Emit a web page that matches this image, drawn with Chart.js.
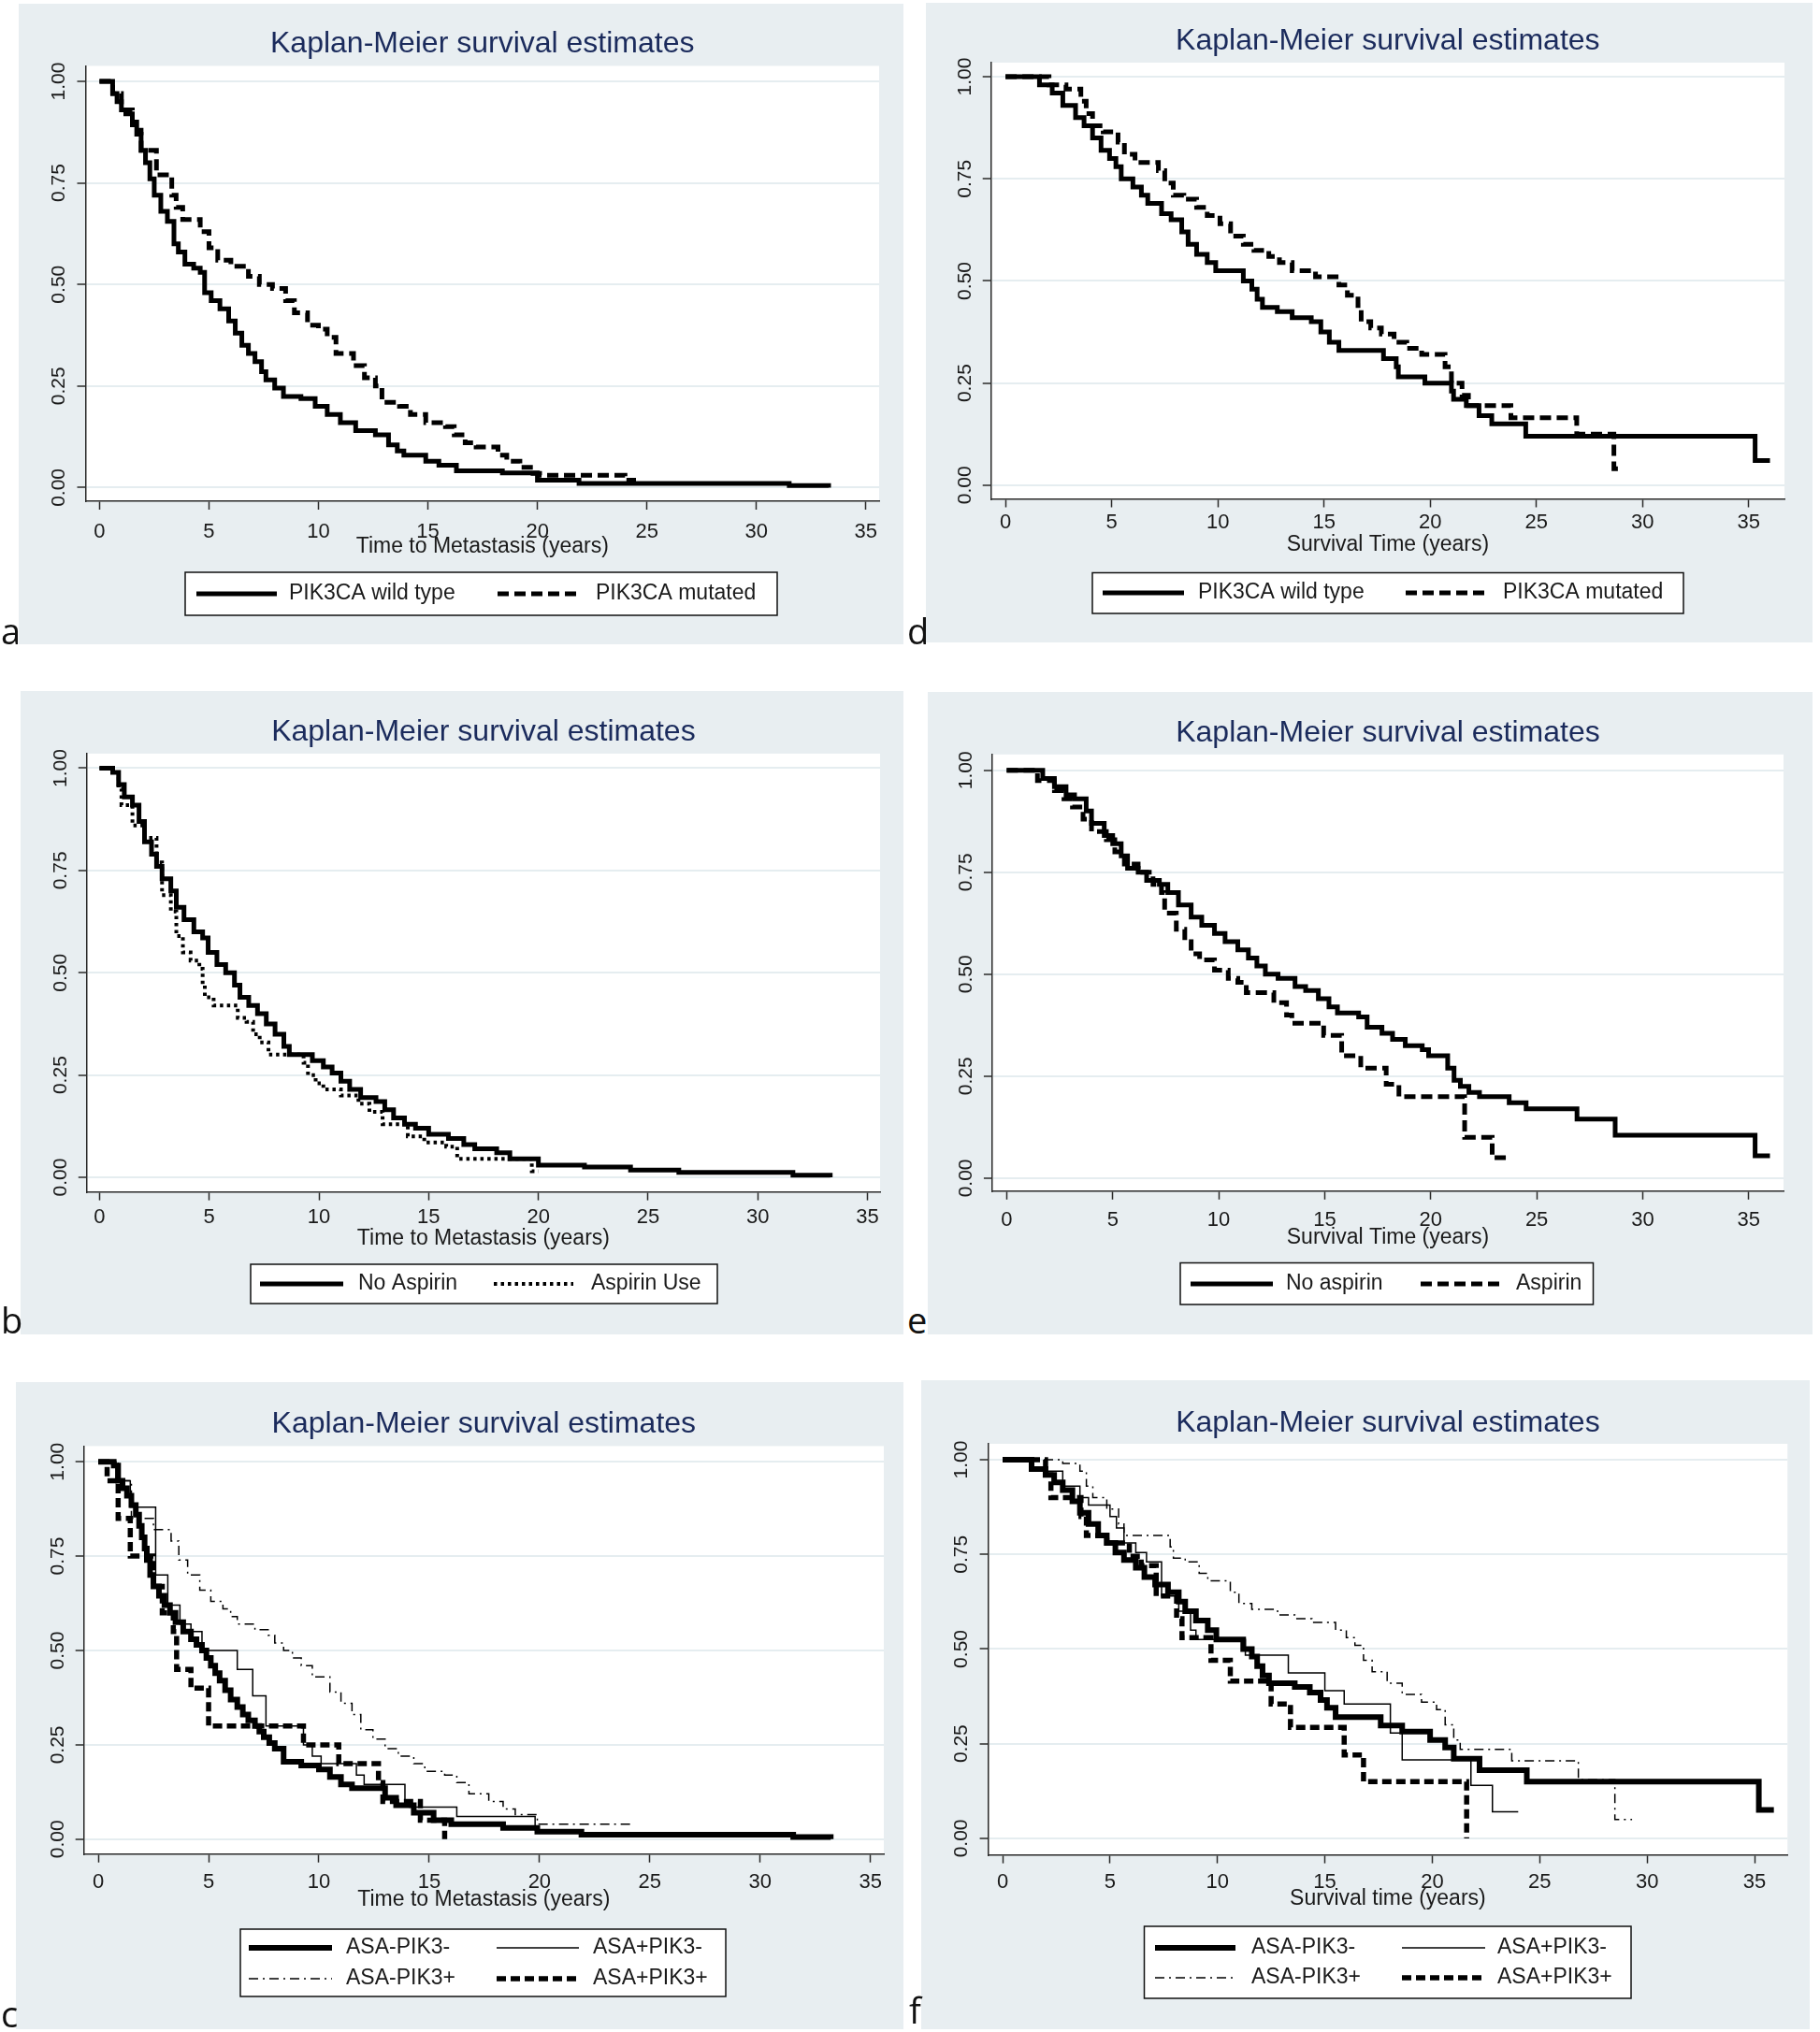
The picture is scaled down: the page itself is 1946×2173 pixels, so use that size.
<!DOCTYPE html>
<html>
<head>
<meta charset="utf-8">
<script src="https://cdn.jsdelivr.net/npm/chart.js@4.4.0/dist/chart.umd.min.js"></script>
<style>
  body { margin: 0; background: #fff; width: 1946px; height: 2173px; position: relative; overflow: hidden; }
  .letter { position: absolute; font-family: "Open Sans", sans-serif; font-size: 38px; line-height: 1; color: #111; }
</style>
</head>
<body>
<script>
// tick labels
const X_TICKS = [0, 5, 10, 15, 20, 25, 30, 35];
const Y_TICKS = [0, 0.25, 0.5, 0.75, 1];

// a - time to metastasis by PIK3CA
const A_WILD_T = [0, 0.6, 0.8, 1.0, 1.2, 1.5, 1.7, 1.9, 2.1, 2.3, 2.5, 2.8, 3.1, 3.4, 3.6, 3.9, 4.3, 4.6, 4.8, 5.1, 5.5, 5.9, 6.2, 6.5, 6.8, 7.1, 7.4, 7.6, 8.0, 8.4, 9.2, 9.85, 10.4, 11.0, 11.7, 12.6, 13.2, 13.6, 13.9, 14.9, 15.5, 16.3, 18.4, 20.0, 21.9, 31.5, 33.3];
const A_WILD_S = [1, 0.97, 0.95, 0.93, 0.92, 0.90, 0.87, 0.83, 0.80, 0.76, 0.72, 0.68, 0.655, 0.60, 0.58, 0.55, 0.54, 0.53, 0.48, 0.46, 0.44, 0.41, 0.38, 0.35, 0.33, 0.31, 0.285, 0.265, 0.245, 0.224, 0.219, 0.20, 0.18, 0.16, 0.14, 0.13, 0.105, 0.09, 0.08, 0.065, 0.055, 0.041, 0.036, 0.018, 0.010, 0.005, 0.0];
const A_MUT_T = [0, 0.6, 1.0, 1.5, 1.9, 2.6, 3.3, 3.5, 3.8, 4.6, 5.0, 5.4, 6.0, 6.8, 7.3, 7.9, 8.5, 8.9, 9.5, 10.0, 10.4, 10.8, 11.6, 12.1, 12.6, 12.9, 13.7, 14.2, 14.9, 15.8, 16.2, 16.7, 17.2, 18.2, 18.6, 19.2, 19.8, 20.1, 24.0, 24.5];
const A_MUT_S = [1, 0.97, 0.93, 0.88, 0.83, 0.77, 0.72, 0.69, 0.66, 0.63, 0.59, 0.56, 0.545, 0.52, 0.50, 0.49, 0.46, 0.43, 0.40, 0.39, 0.37, 0.33, 0.30, 0.27, 0.25, 0.21, 0.20, 0.18, 0.16, 0.15, 0.13, 0.11, 0.10, 0.08, 0.065, 0.05, 0.035, 0.03, 0.018, 0.018];

// d - survival by PIK3CA
const D_WILD_T = [0, 1.2, 1.6, 2.2, 2.7, 3.3, 3.7, 4.1, 4.5, 4.9, 5.2, 5.45, 6.0, 6.4, 6.7, 7.35, 7.8, 8.3, 8.6, 9.0, 9.5, 9.9, 11.2, 11.6, 11.85, 12.1, 12.8, 13.5, 14.4, 14.85, 15.25, 15.7, 17.8, 18.4, 18.5, 19.75, 21.0, 21.1, 21.7, 22.3, 22.9, 24.5, 35.3, 36.0];
const D_WILD_S = [1, 1, 0.98, 0.96, 0.93, 0.90, 0.88, 0.85, 0.82, 0.80, 0.78, 0.75, 0.73, 0.71, 0.69, 0.665, 0.65, 0.62, 0.59, 0.565, 0.545, 0.525, 0.50, 0.48, 0.455, 0.435, 0.425, 0.41, 0.40, 0.375, 0.35, 0.33, 0.31, 0.29, 0.265, 0.25, 0.23, 0.21, 0.195, 0.17, 0.15, 0.12, 0.06, 0.06];
const D_MUT_T = [0, 2.05, 2.85, 3.55, 3.8, 4.1, 4.6, 5.3, 5.6, 6.1, 7.2, 7.5, 7.9, 8.4, 9.0, 9.5, 10.1, 10.6, 11.2, 11.7, 12.4, 12.9, 13.5, 14.6, 15.7, 16.1, 16.6, 16.75, 17.2, 17.7, 18.3, 18.9, 19.6, 20.7, 21.0, 21.5, 21.8, 23.8, 26.9, 28.65, 29.1];
const D_MUT_S = [1, 0.98, 0.97, 0.94, 0.91, 0.88, 0.865, 0.84, 0.81, 0.79, 0.77, 0.74, 0.71, 0.70, 0.68, 0.66, 0.64, 0.61, 0.59, 0.575, 0.56, 0.545, 0.525, 0.51, 0.49, 0.465, 0.44, 0.40, 0.385, 0.37, 0.35, 0.335, 0.32, 0.29, 0.25, 0.22, 0.195, 0.165, 0.125, 0.04, 0.04];

// b - time to metastasis by aspirin
const B_NO_T = [0, 0.6, 0.87, 1.13, 1.5, 1.8, 2.05, 2.37, 2.6, 2.85, 3.25, 3.5, 3.85, 4.3, 4.7, 4.95, 5.35, 5.75, 6.15, 6.4, 6.8, 7.2, 7.6, 8.0, 8.4, 8.65, 9.7, 10.2, 10.6, 11.0, 11.4, 11.9, 12.6, 13.0, 13.4, 13.9, 14.4, 15.0, 15.9, 16.6, 17.1, 18.1, 18.7, 20.0, 22.1, 24.2, 26.4, 31.6, 33.3];
const B_NO_S = [1, 0.99, 0.96, 0.93, 0.91, 0.87, 0.82, 0.79, 0.76, 0.73, 0.70, 0.66, 0.63, 0.60, 0.585, 0.55, 0.52, 0.50, 0.47, 0.44, 0.42, 0.40, 0.375, 0.35, 0.32, 0.30, 0.285, 0.27, 0.255, 0.235, 0.215, 0.195, 0.185, 0.165, 0.145, 0.13, 0.12, 0.105, 0.095, 0.08, 0.07, 0.06, 0.045, 0.03, 0.025, 0.018, 0.012, 0.005, 0.0];
const B_ASP_T = [0, 0.6, 0.87, 1.0, 1.5, 2.05, 2.6, 2.85, 3.25, 3.5, 3.8, 4.15, 4.55, 4.7, 4.8, 5.2, 6.3, 6.7, 7.0, 7.3, 7.7, 9.3, 9.5, 9.85, 10.2, 11.0, 11.8, 12.3, 12.9, 14.05, 14.8, 15.8, 16.3, 19.7, 20.0];
const B_ASP_S = [1, 0.99, 0.95, 0.91, 0.86, 0.83, 0.77, 0.69, 0.65, 0.59, 0.55, 0.53, 0.51, 0.47, 0.44, 0.42, 0.39, 0.38, 0.35, 0.33, 0.30, 0.28, 0.25, 0.23, 0.215, 0.20, 0.18, 0.16, 0.13, 0.10, 0.085, 0.075, 0.045, 0.015, 0.015];

// e - survival by aspirin
const E_NO_T = [0, 1.45, 1.7, 2.25, 2.8, 3.2, 3.75, 4.0, 4.6, 5.0, 5.4, 5.7, 6.2, 6.6, 7.2, 7.6, 8.1, 8.7, 9.2, 9.8, 10.3, 10.9, 11.4, 11.8, 12.2, 12.8, 13.6, 14.1, 14.7, 15.2, 15.6, 16.6, 17.0, 17.7, 18.2, 18.8, 19.6, 19.9, 20.8, 21.1, 21.4, 21.8, 22.3, 23.7, 24.5, 26.9, 28.7, 35.3, 36.0];
const E_NO_S = [1, 1, 0.98, 0.96, 0.94, 0.93, 0.90, 0.87, 0.84, 0.82, 0.79, 0.76, 0.75, 0.73, 0.72, 0.70, 0.67, 0.64, 0.62, 0.60, 0.58, 0.56, 0.54, 0.52, 0.50, 0.49, 0.47, 0.46, 0.44, 0.42, 0.405, 0.395, 0.37, 0.355, 0.34, 0.325, 0.315, 0.30, 0.27, 0.24, 0.225, 0.21, 0.20, 0.185, 0.17, 0.145, 0.105, 0.055, 0.055];
const E_ASP_T = [0, 1.45, 2.25, 2.7, 3.1, 3.6, 4.0, 4.7, 5.1, 5.55, 6.2, 6.9, 7.3, 7.45, 8.0, 8.4, 8.7, 9.1, 9.8, 10.45, 10.9, 11.3, 12.6, 13.2, 13.45, 14.95, 15.8, 16.7, 17.9, 18.5, 21.6, 22.9, 23.8];
const E_ASP_S = [1, 0.975, 0.95, 0.93, 0.91, 0.88, 0.85, 0.83, 0.80, 0.77, 0.75, 0.72, 0.70, 0.65, 0.61, 0.58, 0.55, 0.535, 0.51, 0.49, 0.48, 0.455, 0.43, 0.40, 0.38, 0.35, 0.30, 0.27, 0.23, 0.20, 0.10, 0.05, 0.05];

// c - time to metastasis, aspirin x PIK3CA
const C_NN_T = [0, 0.7, 0.9, 1.1, 1.3, 1.5, 1.7, 1.85, 1.97, 2.1, 2.2, 2.35, 2.5, 2.75, 3.0, 3.25, 3.5, 3.85, 4.2, 4.45, 4.7, 4.9, 5.1, 5.3, 5.5, 5.75, 6.0, 6.3, 6.55, 6.8, 7.1, 7.3, 7.5, 7.75, 8.0, 8.4, 9.2, 10.0, 10.5, 11.0, 11.5, 13.0, 13.5, 14.3, 15.2, 16.0, 18.35, 19.9, 21.9, 31.5, 33.2];
const C_NN_S = [1, 0.99, 0.95, 0.93, 0.91, 0.885, 0.86, 0.83, 0.80, 0.77, 0.74, 0.70, 0.67, 0.645, 0.62, 0.60, 0.575, 0.55, 0.53, 0.515, 0.50, 0.48, 0.46, 0.44, 0.42, 0.395, 0.37, 0.35, 0.33, 0.315, 0.30, 0.285, 0.27, 0.255, 0.24, 0.205, 0.195, 0.185, 0.165, 0.145, 0.135, 0.11, 0.09, 0.07, 0.05, 0.04, 0.03, 0.02, 0.012, 0.006, 0.0];
const C_PN_T = [0, 0.8, 1.45, 2.6, 3.15, 3.7, 4.2, 4.7, 6.3, 7.0, 7.6, 9.3, 9.7, 10.1, 11.7, 12.05, 13.9, 14.1, 16.25, 19.8, 22.0];
const C_PN_S = [1, 0.95, 0.88, 0.70, 0.62, 0.57, 0.55, 0.50, 0.45, 0.38, 0.30, 0.25, 0.22, 0.20, 0.17, 0.145, 0.09, 0.085, 0.06, 0.025, 0.025];
const C_NP_T = [0, 0.9, 1.5, 2.5, 3.3, 3.65, 4.05, 4.6, 5.1, 5.65, 6.0, 6.3, 7.1, 7.7, 8.0, 8.4, 8.8, 9.2, 9.7, 10.5, 11.0, 11.5, 11.9, 12.45, 13.0, 13.6, 14.3, 14.8, 15.7, 16.25, 16.8, 17.7, 18.35, 18.9, 19.9, 24.3];
const C_NP_S = [1, 0.95, 0.85, 0.82, 0.79, 0.74, 0.70, 0.66, 0.63, 0.61, 0.59, 0.57, 0.555, 0.54, 0.52, 0.50, 0.48, 0.46, 0.43, 0.39, 0.36, 0.33, 0.29, 0.265, 0.24, 0.22, 0.20, 0.18, 0.17, 0.15, 0.12, 0.10, 0.08, 0.065, 0.04, 0.04];
const C_PP_T = [0, 0.4, 0.9, 1.45, 2.5, 2.9, 3.4, 3.55, 4.2, 5.0, 9.3, 10.9, 12.7, 12.9, 14.6, 15.7];
const C_PP_S = [1, 0.95, 0.85, 0.75, 0.67, 0.60, 0.55, 0.45, 0.40, 0.30, 0.25, 0.20, 0.15, 0.10, 0.05, 0.0];

// f - survival, aspirin x PIK3CA
const F_NN_T = [0, 1.2, 1.35, 2.0, 2.4, 2.8, 3.25, 3.6, 4.0, 4.45, 4.85, 5.25, 5.65, 6.2, 6.6, 7.1, 7.7, 8.2, 8.5, 9.0, 9.55, 9.95, 11.2, 11.6, 11.85, 12.1, 12.4, 13.6, 14.3, 14.8, 15.1, 15.5, 17.6, 18.6, 19.9, 20.6, 21.0, 22.2, 24.4, 35.2, 35.9];
const F_NN_S = [1, 1, 0.975, 0.96, 0.94, 0.92, 0.89, 0.86, 0.83, 0.80, 0.78, 0.755, 0.735, 0.715, 0.69, 0.67, 0.65, 0.625, 0.60, 0.575, 0.55, 0.525, 0.50, 0.48, 0.455, 0.43, 0.41, 0.40, 0.385, 0.365, 0.345, 0.32, 0.298, 0.282, 0.26, 0.24, 0.21, 0.18, 0.15, 0.075, 0.075];
const F_PN_T = [0, 1.35, 2.8, 3.6, 4.0, 5.0, 5.3, 5.65, 6.2, 6.7, 7.4, 8.2, 8.75, 9.0, 11.3, 13.3, 15.0, 15.9, 18.05, 18.6, 21.8, 22.8, 24.0];
const F_PN_S = [1, 0.97, 0.93, 0.90, 0.88, 0.85, 0.82, 0.78, 0.755, 0.73, 0.64, 0.60, 0.55, 0.525, 0.484, 0.437, 0.39, 0.355, 0.278, 0.207, 0.14, 0.07, 0.07];
const F_NP_T = [0, 2.8, 3.6, 3.9, 4.2, 4.85, 5.4, 5.65, 7.8, 7.95, 8.5, 9.15, 9.55, 10.6, 11.0, 11.6, 12.8, 13.6, 14.4, 15.5, 16.0, 16.4, 16.8, 17.2, 17.9, 18.6, 19.5, 20.2, 20.6, 21.0, 21.3, 23.7, 26.8, 28.5, 29.3];
const F_NP_S = [1, 0.99, 0.97, 0.93, 0.90, 0.87, 0.83, 0.80, 0.77, 0.74, 0.73, 0.70, 0.68, 0.65, 0.62, 0.605, 0.59, 0.58, 0.57, 0.55, 0.53, 0.51, 0.47, 0.44, 0.41, 0.38, 0.36, 0.34, 0.30, 0.26, 0.235, 0.205, 0.155, 0.05, 0.05];
const F_PP_T = [0, 2.0, 2.25, 3.65, 3.9, 4.85, 5.9, 6.45, 7.15, 8.1, 8.35, 9.7, 10.6, 12.5, 13.4, 15.9, 16.8, 21.6];
const F_PP_S = [1, 0.96, 0.90, 0.85, 0.80, 0.78, 0.745, 0.72, 0.64, 0.58, 0.53, 0.47, 0.415, 0.355, 0.293, 0.22, 0.15, 0.0];

const FONT = '"Liberation Sans", Arial, sans-serif';
const BG = '#e8eef1';
const GRID = '#e5edf0';
const AXIS = '#2a2a2a';
const TEXT = '#1a1a1a';
const TITLE_COLOR = '#1b2b5c';

Chart.defaults.font.family = FONT;

function km(t, s) {
  return t.map((v, i) => ({ x: v, y: s[i] }));
}

function line(label, t, s, width, dash) {
  return {
    label: label,
    data: km(t, s),
    borderColor: '#000',
    borderWidth: width,
    borderDash: dash,
    borderCapStyle: 'butt',
    borderJoinStyle: 'miter',
    stepped: 'before',
    pointRadius: 0,
    fill: false
  };
}

const THICK_DASH = [12, 6];

// geometry per panel (page pixels)
const panels = [
  { id: 'a', bg: [20, 4, 946, 685], plot: [91.5, 940, 70.5, 536], x0: 106.4, x35: 925.8, y1: 87, y0: 521.4,
    titleY: 47, xTitle: 'Time to Metastasis (years)', xTitleY: 585, xPad: 10.3,
    series: [line('PIK3CA wild type', A_WILD_T, A_WILD_S, 5, []), line('PIK3CA mutated', A_MUT_T, A_MUT_S, 5, THICK_DASH)],
    legend: { box: [198, 612, 633, 46], items: [[210, 296, 309, 635], [532, 622, 637, 635]] },
    letter: [1, 689] },
  { id: 'd', bg: [990, 3, 948, 684], plot: [1059.7, 1908, 67, 533.5], x0: 1075.1, x35: 1869.8, y1: 82.1, y0: 518.8,
    titleY: 44.6, xTitle: 'Survival Time (years)', xTitleY: 582.6, xPad: 3.5,
    series: [line('PIK3CA wild type', D_WILD_T, D_WILD_S, 5, []), line('PIK3CA mutated', D_MUT_T, D_MUT_S, 5, THICK_DASH)],
    legend: { box: [1168, 612.5, 632, 43.5], items: [[1179, 1266, 1281, 634], [1503, 1592, 1607, 634]] },
    letter: [970, 689] },
  { id: 'b', bg: [22, 739, 944, 688], plot: [92.8, 941, 805.9, 1274.6], x0: 106.4, x35: 927.6, y1: 821.5, y0: 1259,
    titleY: 782.7, xTitle: 'Time to Metastasis (years)', xTitleY: 1325, xPad: 5.4,
    series: [line('No Aspirin', B_NO_T, B_NO_S, 5, []), line('Aspirin Use', B_ASP_T, B_ASP_S, 4, [3.5, 4])],
    legend: { box: [268, 1352, 499, 42], items: [[278, 367, 383, 1373], [528, 613, 632, 1373]] },
    letter: [1, 1426] },
  { id: 'e', bg: [992, 740, 946, 687], plot: [1060.9, 1907, 806.8, 1273.75], x0: 1076.4, x35: 1869.8, y1: 823.75, y0: 1259.9,
    titleY: 784.5, xTitle: 'Survival Time (years)', xTitleY: 1323.8, xPad: 9,
    series: [line('No aspirin', E_NO_T, E_NO_S, 5, []), line('Aspirin', E_ASP_T, E_ASP_S, 5, THICK_DASH)],
    legend: { box: [1262, 1350.5, 441.5, 44.5], items: [[1273, 1361, 1375, 1373], [1519, 1607, 1621, 1373]] },
    letter: [970, 1426] },
  { id: 'c', bg: [17, 1478, 949, 692], plot: [89.7, 945, 1546.4, 1982.7], x0: 105.1, x35: 930.7, y1: 1563.2, y0: 1966.8,
    titleY: 1523.6, xTitle: 'Time to Metastasis (years)', xTitleY: 2031.8, xPad: 8,
    series: [line('ASA-PIK3-', C_NN_T, C_NN_S, 6, []), line('ASA+PIK3-', C_PN_T, C_PN_S, 1.5, []),
             line('ASA-PIK3+', C_NP_T, C_NP_S, 1.5, [10, 5, 2, 5]), line('ASA+PIK3+', C_PP_T, C_PP_S, 5.5, [10, 5])],
    legend: { box: [257, 2063, 519, 72], items: [[266, 355, 370, 2083], [531, 619, 634, 2083], [266, 355, 370, 2116], [531, 619, 634, 2116]] },
    letter: [1, 2168] },
  { id: 'f', bg: [985, 1476, 950, 694], plot: [1056.6, 1911.2, 1544, 1983.6], x0: 1072, x35: 1876, y1: 1561, y0: 1965.9,
    titleY: 1522, xTitle: 'Survival time (years)', xTitleY: 2031, xPad: 6.8,
    series: [line('ASA-PIK3-', F_NN_T, F_NN_S, 6, []), line('ASA+PIK3-', F_PN_T, F_PN_S, 1.5, []),
             line('ASA-PIK3+', F_NP_T, F_NP_S, 1.5, [10, 5, 2, 5]), line('ASA+PIK3+', F_PP_T, F_PP_S, 5.5, [10, 5])],
    legend: { box: [1223.5, 2060, 520.5, 77], items: [[1235, 1321, 1338, 2083], [1499, 1588, 1601, 2083], [1235, 1321, 1338, 2115], [1499, 1588, 1601, 2115]] },
    letter: [972, 2164] }
];

function drawPanel(p) {
  const [bx, by, bw, bh] = p.bg;
  const cv = document.createElement('canvas');
  cv.width = bw;
  cv.height = bh;
  cv.style.cssText = 'position:absolute;left:' + bx + 'px;top:' + by + 'px;width:' + bw + 'px;height:' + bh + 'px;background:' + BG;
  document.body.appendChild(cv);

  const lt = document.createElement('div');
  lt.className = 'letter';
  lt.textContent = p.id;
  lt.style.left = p.letter[0] + 'px';
  lt.style.top = (p.letter[1] - 34) + 'px';
  document.body.appendChild(lt);

  const xs = (p.x35 - p.x0) / 35;
  const ys = p.y0 - p.y1;
  const left = p.plot[0] - bx, right = p.plot[1] - bx;
  const top = p.plot[2] - by, bottom = p.plot[3] - by;
  const titleLH = 32 * 1.2;
  const tY = p.titleY - by;
  const axLH = 23 * 1.2;

  // white plot region + framed legend
  const panelPlugin = {
    id: 'panelDeco',
    beforeDraw(chart) {
      const a = chart.chartArea;
      const ctx = chart.ctx;
      ctx.save();
      ctx.fillStyle = '#fff';
      ctx.fillRect(a.left, a.top, a.right - a.left, a.bottom - a.top);
      ctx.restore();
    },
    afterDraw(chart) {
      const ctx = chart.ctx;
      const [lx, ly, lw, lh] = p.legend.box;
      ctx.save();
      ctx.fillStyle = '#fff';
      ctx.fillRect(lx - bx, ly - by, lw, lh);
      ctx.strokeStyle = '#111';
      ctx.lineWidth = 1.5;
      ctx.strokeRect(lx - bx, ly - by, lw, lh);
      p.legend.items.forEach((it, i) => {
        const ds = chart.data.datasets[i];
        ctx.beginPath();
        ctx.setLineDash(ds.borderDash || []);
        ctx.lineWidth = ds.borderWidth;
        ctx.lineCap = 'butt';
        ctx.strokeStyle = '#000';
        ctx.moveTo(it[0] - bx, it[3] - by);
        ctx.lineTo(it[1] - bx, it[3] - by);
        ctx.stroke();
        ctx.setLineDash([]);
        ctx.fillStyle = TEXT;
        ctx.font = '23px ' + FONT;
        ctx.textBaseline = 'middle';
        ctx.textAlign = 'left';
        ctx.fillText(ds.label, it[2] - bx, it[3] - by);
      });
      ctx.restore();
    }
  };

  new Chart(cv, {
    type: 'line',
    data: { datasets: p.series },
    options: {
      responsive: false,
      animation: false,
      events: [],
      layout: { autoPadding: false, padding: { left: 0, top: 0, right: bw - right, bottom: 0 } },
      plugins: {
        legend: { display: false },
        tooltip: { enabled: false },
        title: {
          display: true,
          text: 'Kaplan-Meier survival estimates',
          fullSize: false,
          color: TITLE_COLOR,
          font: { size: 32, weight: 'normal' },
          padding: { top: tY - titleLH / 2, bottom: top - tY - titleLH / 2 }
        }
      },
      scales: {
        x: {
          type: 'linear',
          min: (p.plot[0] - p.x0) / xs,
          max: (p.plot[1] - p.x0) / xs,
          afterBuildTicks: s => { s.ticks = X_TICKS.map(v => ({ value: v })); },
          afterFit: s => { s.height = bh - bottom; },
          ticks: { autoSkip: false, maxRotation: 0, minRotation: 0, padding: p.xPad, color: TEXT, font: { size: 22 }, callback: v => String(v) },
          grid: { display: true, drawOnChartArea: false, drawTicks: true, tickLength: 9, tickColor: AXIS, tickWidth: 1.5 },
          border: { display: true, color: AXIS, width: 1.5 },
          title: { display: true, text: p.xTitle, color: TEXT, font: { size: 23 }, padding: { top: 0, bottom: bh - (p.xTitleY - by) - axLH / 2 } }
        },
        y: {
          type: 'linear',
          min: -(p.plot[3] - p.y0) / ys,
          max: 1 + (p.y1 - p.plot[2]) / ys,
          afterBuildTicks: s => { s.ticks = Y_TICKS.map(v => ({ value: v })); },
          afterFit: s => { s.width = left; },
          ticks: { autoSkip: false, minRotation: 90, maxRotation: 90, crossAlign: 'center', padding: -1.5, color: TEXT, font: { size: 21 }, callback: v => v.toFixed(2) },
          grid: { color: GRID, lineWidth: 2, drawTicks: true, tickLength: 9, tickColor: AXIS, tickWidth: 1.5 },
          border: { display: true, color: AXIS, width: 1.5 }
        }
      }
    },
    plugins: [panelPlugin]
  });
}

panels.forEach(drawPanel);
</script>
</body>
</html>
